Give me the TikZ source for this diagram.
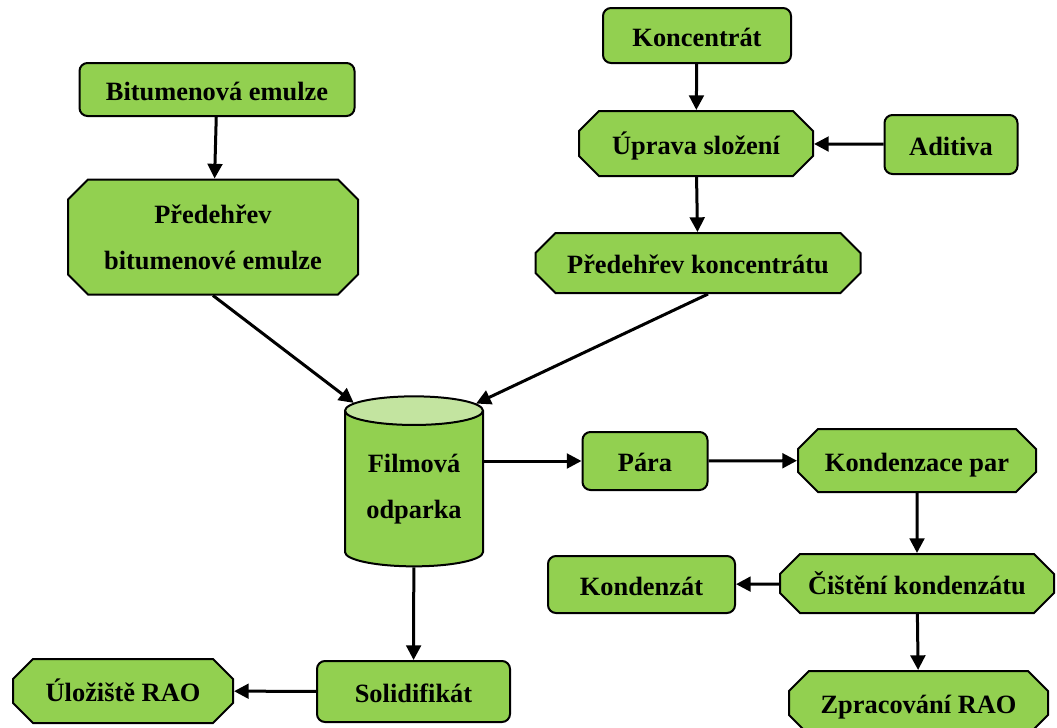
\documentclass[tikz,border=0pt]{standalone}
\usepackage{fontspec}
\setmainfont{Liberation Serif}
\usetikzlibrary{positioning, shapes.misc, shapes.geometric, arrows.meta}

\definecolor{boxgreen}{HTML}{92D050}
\definecolor{topgreen}{HTML}{C3E4A0}

\begin{document}
\begin{tikzpicture}[
    x=0.75pt, y=-0.75pt,
    every node/.style={font=\fontsize{19.8}{34.5}\selectfont\bfseries, align=center, inner sep=0pt},
    box/.style={draw=black, line width=1.5pt, fill=boxgreen},
    oneline/.style={text height=18pt, text depth=2pt},
    item/.style={box, oneline, rectangle, rounded corners=6pt},
    stage/.style={box, chamfered rectangle, chamfered rectangle xsep=7.5pt, chamfered rectangle ysep=7.5pt},
    tank/.style={cylinder, shape border rotate=90, aspect=0.3, draw=black, line width=1.5pt,
        cylinder uses custom fill, cylinder body fill=boxgreen, cylinder end fill=topgreen},
    arrow/.style={-{Triangle[length=11pt, width=11pt]}, line width=2.25pt}
]
\useasboundingbox (0,0) rectangle (1057,728);

% Bitumen branch
\node[item, minimum width=206.25pt, minimum height=39.75pt] (bitem) at (217,89.5) {Bitumenová emulze};
\node[stage, minimum width=217.5pt, minimum height=86.25pt] (preheatb) at (213,237) {Předehřev\\bitumenové emulze};

% Concentrate branch
\node[item, minimum width=141pt, minimum height=41.25pt] (konc) at (697,35.5) {Koncentrát};
\node[stage, oneline, minimum width=175.5pt, minimum height=48.75pt] (uprava) at (696,143.5) {Úprava složení};
\node[item, minimum width=99.75pt, minimum height=44.25pt] (aditiva) at (951,144.5) {Aditiva};
\node[stage, oneline, minimum width=243.75pt, minimum height=45pt] (preheatk) at (698,263) {Předehřev koncentrátu};

% Evaporator
\node[tank, minimum width=103.5pt, minimum height=127.5pt] (odparka) at (414,489) {Filmová\\odparka};

% Vapour line
\node[item, minimum width=93.75pt, minimum height=43.5pt] (para) at (645,461) {Pára};
\node[stage, oneline, minimum width=178.5pt, minimum height=47.25pt] (kondenzace) at (917,460.5) {Kondenzace par};
\node[stage, oneline, minimum width=205.5pt, minimum height=44.25pt] (cisteni) at (917,583.5) {Čištění kondenzátu};
\node[item, minimum width=140.25pt, minimum height=42.75pt] (kondenzat) at (641.5,584.5) {Kondenzát};
\node[stage, oneline, minimum width=194.25pt, minimum height=48pt] (zprac) at (918.5,703) {Zpracování RAO};

% Solid product
\node[item, minimum width=144.75pt, minimum height=45.75pt] (solid) at (413.5,691.5) {Solidifikát};
\node[stage, oneline, minimum width=165pt, minimum height=48pt] (uloziste) at (123,691) {Úložiště RAO};

% Connections
\draw[arrow] (bitem) -- (preheatb);
\draw[arrow] (preheatb.south) -- (odparka.125);
\draw[arrow] (konc) -- (uprava);
\draw[arrow] (aditiva) -- (uprava);
\draw[arrow] (uprava) -- (preheatk);
\draw[arrow] (preheatk.-72) -- (odparka.54);
\draw[arrow] (odparka.east |- para.west) -- (para.west);
\draw[arrow] (para) -- (kondenzace);
\draw[arrow] (kondenzace) -- (cisteni);
\draw[arrow] (cisteni) -- (kondenzat);
\draw[arrow] (cisteni) -- (zprac);
\draw[arrow] (odparka) -- (solid);
\draw[arrow] (solid) -- (uloziste);

\end{tikzpicture}
\end{document}
